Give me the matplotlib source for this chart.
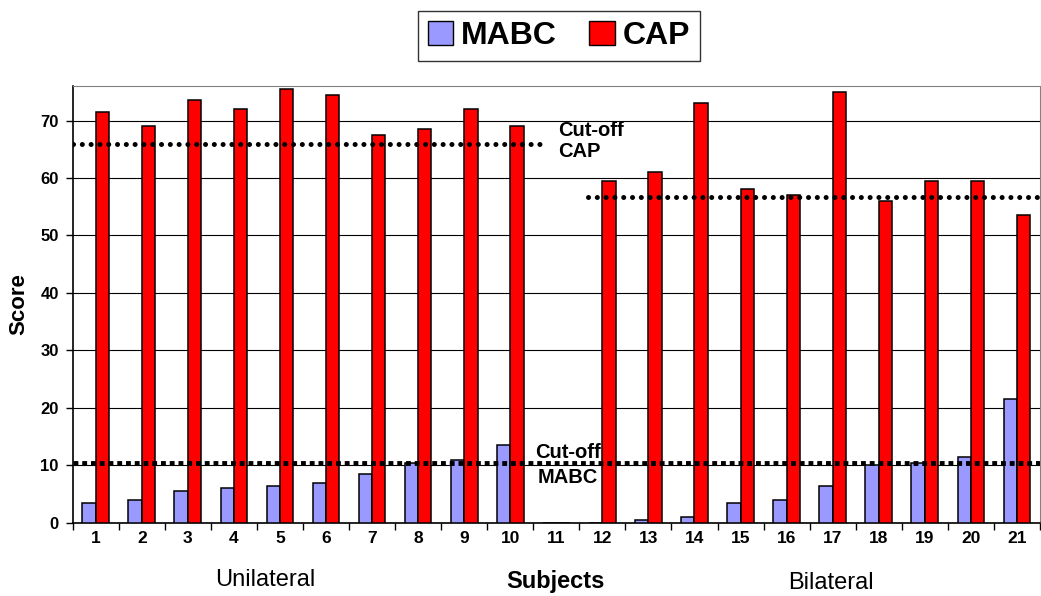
import numpy as np
from matplotlib import pyplot as plt
from matplotlib.patches import Patch

plt.rcParams['font.family'] = ['Liberation Sans', 'DejaVu Sans']

subjects = [str(i) for i in range(1, 22)]
mabc = [3.5, 4, 5.5, 6, 6.5, 7, 8.5, 10.5, 11, 13.5, 0,
        0, 0.5, 1, 3.5, 4, 6.5, 10, 10.5, 11.5, 21.5]
cap = [71.5, 69, 73.5, 72, 75.5, 74.5, 67.5, 68.5, 72, 69, 0,
       59.5, 61, 73, 58, 57, 75, 56, 59.5, 59.5, 53.5]

# cut-off levels: (value, x start, x end) in subject units
cap_cutoffs = [(66.0, 0.5, 10.68), (56.7, 11.69, 21.5)]
mabc_cutoff = (10.4, 0.5, 21.5)

fig = plt.figure(figsize=(10.41, 5.96), dpi=100)
ax = fig.add_axes([0.0698, 0.1225, 0.9292, 0.7332])

x = np.arange(1, len(subjects) + 1)
w = 0.29
ax.bar(x - w / 2, mabc, w, color='#9999ff', edgecolor='black', linewidth=1.1, zorder=3)
ax.bar(x + w / 2, cap, w, color='#ff0000', edgecolor='black', linewidth=1.1, zorder=3)

ax.set_xlim(0.5, 21.5)
ax.set_ylim(0, 76)
ax.set_yticks(range(0, 71, 10))
ax.yaxis.grid(True, color='black', linewidth=0.8, zorder=0)
ax.set_axisbelow(True)

ax.set_xticks(x)
ax.set_xticklabels(subjects, fontsize=12.5, fontweight='bold')
ax.set_xticks(np.arange(0.5, 22, 1), minor=True)
ax.tick_params(axis='x', which='major', length=0, pad=6)
ax.tick_params(axis='x', which='minor', length=5, width=1, direction='out')
ax.tick_params(axis='y', length=5, width=1, labelsize=12, pad=5)
for lab in ax.get_yticklabels():
    lab.set_fontweight('bold')

ax.spines['top'].set_color('#808080')
ax.spines['right'].set_color('#808080')
ax.spines['left'].set_linewidth(1.2)
ax.spines['bottom'].set_linewidth(1.2)

# cut-off lines
for val, x0, x1 in cap_cutoffs:
    ax.plot([x0, x1], [val, val], color='black', linewidth=3.6,
            linestyle=(0, (0.01, 1.75)), dash_capstyle='round', zorder=4)
val, x0, x1 = mabc_cutoff
ax.plot([x0, x1], [val, val], color='black', linewidth=3.5,
        linestyle=(0, (1, 0.8)), dash_capstyle='butt', zorder=4)

ax.text(11.04, 66.4, 'Cut-off\nCAP', fontsize=14.5, fontweight='bold',
        ha='left', va='center', linespacing=1.15)
ax.text(10.54, 11.3, 'Cut-off', fontsize=14.5, fontweight='bold', ha='left', va='baseline', zorder=5)
ax.text(10.6, 6.95, 'MABC', fontsize=14.5, fontweight='bold', ha='left', va='baseline', zorder=5)

ax.set_ylabel('Score', fontsize=16, fontweight='bold', labelpad=8)
fig.text(0.534, 0.0235, 'Subjects', fontsize=17, fontweight='bold', ha='center', va='center')
fig.text(0.2546, 0.027, 'Unilateral', fontsize=17, ha='center', va='center')
fig.text(0.798, 0.021, 'Bilateral', fontsize=17, ha='center', va='center')

handles = [Patch(facecolor='#9999ff', edgecolor='black', label='MABC'),
           Patch(facecolor='#ff0000', edgecolor='black', label='CAP')]
leg = fig.legend(handles=handles, loc='center', bbox_to_anchor=(0.537, 0.94), ncol=2,
                 prop={'size': 23, 'weight': 'bold'}, frameon=True, fancybox=False,
                 edgecolor='black', handlelength=0.8, handleheight=0.8,
                 handletextpad=0.25, columnspacing=1.0, borderpad=0.3)
leg.get_frame().set_linewidth(1.0)

fig.savefig('out.png', dpi=100)
